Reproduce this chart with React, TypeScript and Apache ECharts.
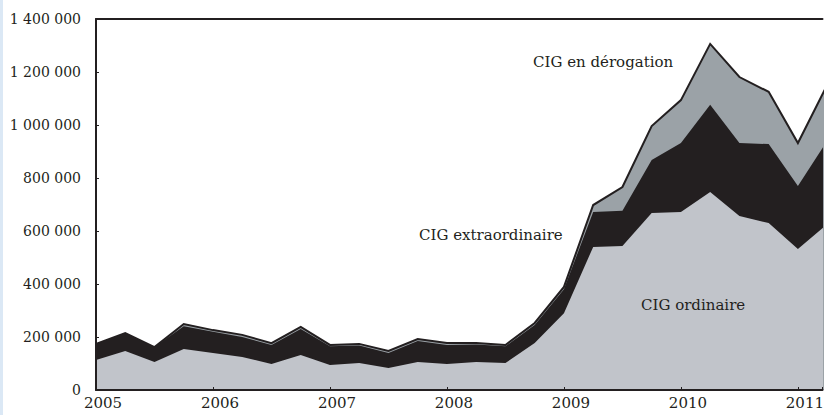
import React, { useEffect, useRef } from "react";
import * as echarts from "echarts";

const quarters: number[] = [
  2005, 2005.25, 2005.5, 2005.75, 2006, 2006.25, 2006.5, 2006.75,
  2007, 2007.25, 2007.5, 2007.75, 2008, 2008.25, 2008.5, 2008.75,
  2009, 2009.25, 2009.5, 2009.75, 2010, 2010.25, 2010.5, 2010.75,
  2011, 2011.25,
];
const ordinaire: number[] = [
  113000, 147000, 106000, 155000, 140000, 125000, 98000, 132000,
  94000, 102000, 83000, 106000, 98000, 106000, 102000, 177000,
  290000, 540000, 543000, 668000, 672000, 747000, 657000, 630000,
  532000, 626000,
];
const extraordinaire: number[] = [
  61000, 68000, 56000, 86000, 80000, 75000, 72000, 98000,
  71000, 66000, 57000, 79000, 72000, 66000, 63000, 68000,
  90000, 132000, 133000, 200000, 260000, 329000, 275000, 298000,
  238000, 314000,
];
const derogation: number[] = [
  0, 0, 0, 8000, 6000, 8000, 7000, 8000,
  5000, 6000, 7000, 7000, 7000, 5000, 5000, 8000,
  9000, 26000, 90000, 128000, 162000, 230000, 249000, 197000,
  162000, 211000,
];
const seriesNames = ["CIG ordinaire", "CIG extraordinaire", "CIG en dérogation"];

const INK = "#231f20";
const FONT = "DejaVu Serif";

function fmt(v: number): string {
  return String(v).replace(/\B(?=(\d{3})+(?!\d))/g, " ");
}

export default function App() {
  const ref = useRef<HTMLDivElement>(null);
  useEffect(() => {
    const chart = echarts.init(ref.current!, null, { renderer: "svg" });
    // cumulative stacks built from the named arrays
    const lvl1 = ordinaire.map((v) => v);
    const lvl2 = ordinaire.map((v, i) => v + extraordinaire[i]);
    const lvl3 = ordinaire.map((v, i) => v + extraordinaire[i] + derogation[i]);
    const pair = (arr: number[]) => quarters.map((q, i) => [q, arr[i]]);
    chart.setOption({
      animation: false,
      backgroundColor: "#ffffff",
      grid: { left: 96, right: 0, top: 19, bottom: 25 },
      xAxis: [
        {
          type: "value",
          min: 2005,
          max: 2011.21,
          interval: 1,
          splitLine: { show: false },
          axisLine: { show: true, lineStyle: { color: INK, width: 2 } },
          axisTick: { show: true, inside: true, length: 3, lineStyle: { color: INK, width: 1 } },
          axisLabel: {
            formatter: (v: number) => (Number.isInteger(v) ? String(v) : ""),
            fontFamily: FONT,
            fontSize: 15,
            color: INK,
            margin: 5,
            padding: [0, 0, 0, 14],
            showMaxLabel: true,
          },
          z: 10,
        },
        {
          type: "value",
          position: "top",
          min: 2005,
          max: 2011.21,
          splitLine: { show: false },
          axisLine: { show: true, onZero: false, lineStyle: { color: INK, width: 2 } },
          axisTick: { show: false },
          axisLabel: { show: false },
        },
      ],
      yAxis: {
        type: "value",
        min: 0,
        max: 1400000,
        interval: 200000,
        splitLine: { show: false },
        axisLine: { show: true, lineStyle: { color: INK, width: 2 } },
        axisTick: { show: true, inside: true, length: 3, lineStyle: { color: INK, width: 1 } },
        axisLabel: {
          formatter: (v: number) => fmt(v),
          fontFamily: FONT,
          fontSize: 14,
          color: INK,
          margin: 15,
        },
        z: 10,
      },
      series: [
        {
          name: seriesNames[2],
          type: "line",
          data: pair(lvl3),
          symbol: "none",
          lineStyle: { width: 2, color: INK, join: "miter" },
          areaStyle: { color: "#9ba2a7", opacity: 1, origin: "start" },
          z: 2,
        },
        {
          name: seriesNames[1],
          type: "line",
          data: pair(lvl2),
          symbol: "none",
          lineStyle: { width: 0 },
          areaStyle: { color: INK, opacity: 1, origin: "start" },
          z: 3,
        },
        {
          name: seriesNames[0],
          type: "line",
          data: pair(lvl1),
          symbol: "none",
          lineStyle: { width: 0 },
          areaStyle: { color: "#c1c4ca", opacity: 1, origin: "start" },
          z: 4,
        },
      ],
      graphic: [
        {
          type: "rect",
          shape: { x: 0, y: 0, width: 3, height: 415 },
          style: { fill: "#dbe8f5" },
        },
        {
          type: "text",
          x: 533,
          y: 62,
          style: { text: seriesNames[2], font: `15px "${FONT}"`, fill: INK, textVerticalAlign: "middle", textAlign: "left" },
          z: 10,
        },
        {
          type: "text",
          x: 419,
          y: 235,
          style: { text: seriesNames[1], font: `15px "${FONT}"`, fill: INK, textVerticalAlign: "middle", textAlign: "left" },
          z: 10,
        },
        {
          type: "text",
          x: 641,
          y: 305,
          style: { text: seriesNames[0], font: `15px "${FONT}"`, fill: INK, textVerticalAlign: "middle", textAlign: "left" },
          z: 10,
        },
      ],
    });
    return () => chart.dispose();
  }, []);
  return (
    <div
      ref={ref}
      style={{ position: "absolute", left: 0, top: 0, width: 827, height: 415 }}
    />
  );
}
